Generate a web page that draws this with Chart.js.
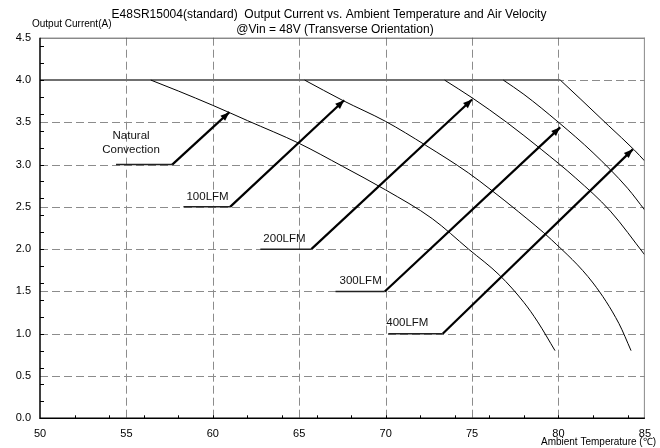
<!DOCTYPE html>
<html>
<head>
<meta charset="utf-8">
<script src="https://cdn.jsdelivr.net/npm/chart.js@4.4.1/dist/chart.umd.min.js"></script>
<style>
  html, body { margin: 0; padding: 0; background: #fff; }
  #wrap { width: 660px; height: 448px; }
</style>
</head>
<body>
<div id="wrap"><canvas id="chart" width="660" height="448"></canvas></div>
<script>
// derating curves (deg C / A)
const ncTemp = [50, 56.4, 58, 60, 62, 65, 67.5, 70, 72.7, 74.8, 76.6, 78, 78.8, 79.8];
const ncCurr = [4.0, 4.0, 3.87, 3.70, 3.52, 3.25, 2.98, 2.70, 2.36, 2.00, 1.69, 1.37, 1.14, 0.80];
const lfm100Temp = [50, 65.3, 67.5, 70, 72.3, 74.8, 76.1, 77.7, 79.6, 82.0, 83.5, 84.2];
const lfm100Curr = [4.0, 4.0, 3.76, 3.51, 3.23, 2.90, 2.70, 2.44, 2.11, 1.60, 1.12, 0.80];
const lfm200Temp = [50, 73.4, 75, 77, 79, 81, 83, 85];
const lfm200Curr = [4.0, 4.0, 3.79, 3.50, 3.18, 2.84, 2.45, 1.93];
const lfm300Temp = [50, 76.8, 78, 80, 82, 84, 85];
const lfm300Curr = [4.0, 4.0, 3.83, 3.50, 3.14, 2.72, 2.46];
const lfm400Temp = [50, 80.1, 81.3, 82.9, 84.4, 85];
const lfm400Curr = [4.0, 4.0, 3.77, 3.46, 3.17, 3.04];

// callout arrows: leader start -> elbow -> tip on the curve
const arrowNames = ['Natural Convection', '100LFM', '200LFM', '300LFM', '400LFM'];
const leaderStart = [54.4, 58.3, 62.75, 67.1, 70.15];
const elbowTemp = [57.65, 61.0, 65.7, 69.95, 73.3];
const elbowCurr = [3.0, 2.5, 2.0, 1.5, 1.0];
const tipTemp = [60.96, 67.6, 75.0, 80.1, 84.3];
const tipCurr = [3.62, 3.76, 3.77, 3.44, 3.18];

const xTicks = [50, 55, 60, 65, 70, 75, 80, 85];
const yTicks = [0, 0.5, 1, 1.5, 2, 2.5, 3, 3.5, 4, 4.5];

const FONT = '"Liberation Sans", Arial, sans-serif';

function toPoints(temps, currents) {
  return temps.map((t, i) => ({ x: t, y: currents[i] }));
}

function curveDatasets(temps, currents) {
  // flat 4.0 A part drawn straight, derating part smoothed from the knee
  let knee = 0;
  while (knee + 1 < currents.length && currents[knee + 1] === currents[0]) knee++;
  return [
    {
      data: toPoints(temps.slice(0, knee + 1), currents.slice(0, knee + 1)),
      borderColor: '#707070',
      borderWidth: 2,
      pointRadius: 0,
      tension: 0,
    },
    {
      data: toPoints(temps.slice(knee), currents.slice(knee)),
      borderColor: '#000',
      borderWidth: 1,
      pointRadius: 0,
      cubicInterpolationMode: 'monotone',
    },
  ];
}

const datasets = [
  ...curveDatasets(ncTemp, ncCurr),
  ...curveDatasets(lfm100Temp, lfm100Curr),
  ...curveDatasets(lfm200Temp, lfm200Curr),
  ...curveDatasets(lfm300Temp, lfm300Curr),
  ...curveDatasets(lfm400Temp, lfm400Curr),
];

arrowNames.forEach((name, i) => {
  datasets.push({
    data: [{ x: leaderStart[i], y: elbowCurr[i] }, { x: elbowTemp[i], y: elbowCurr[i] }],
    borderColor: '#222',
    borderWidth: 1.5,
    pointRadius: 0,
    tension: 0,
  });
  datasets.push({
    data: [{ x: elbowTemp[i], y: elbowCurr[i] }, { x: tipTemp[i], y: tipCurr[i] }],
    borderColor: '#000',
    borderWidth: 2.2,
    pointRadius: 0,
    tension: 0,
  });
});

// text offsets from the leader start (pixels)
const labelLayout = [
  { dx: 15, dy: -29, align: 'center', lines: ['Natural', 'Convection'] },
  { dx: 3, dy: -10, align: 'left', lines: ['100LFM'] },
  { dx: 3, dy: -10, align: 'left', lines: ['200LFM'] },
  { dx: 4, dy: -11, align: 'left', lines: ['300LFM'] },
  { dx: -2, dy: -11, align: 'left', lines: ['400LFM'] },
];

const decor = {
  id: 'decor',
  beforeDraw(chart) {
    const ctx = chart.ctx;
    ctx.save();
    ctx.fillStyle = '#fff';
    ctx.fillRect(0, 0, chart.width, chart.height);
    ctx.restore();
  },
  beforeDatasetsDraw(chart) {
    // dashed grid
    const { ctx, chartArea: a, scales: { x, y } } = chart;
    ctx.save();
    ctx.strokeStyle = '#8c8c8c';
    ctx.lineWidth = 1;
    ctx.setLineDash([8, 4]);
    ctx.beginPath();
    xTicks.slice(1, -1).forEach((t) => {
      const px = Math.round(x.getPixelForValue(t)) + 0.5;
      ctx.moveTo(px, a.top);
      ctx.lineTo(px, a.bottom);
    });
    yTicks.slice(1, -1).forEach((v) => {
      const py = Math.round(y.getPixelForValue(v)) + 0.5;
      ctx.moveTo(a.left, py);
      ctx.lineTo(a.right, py);
    });
    ctx.stroke();
    ctx.restore();
  },
  afterDraw(chart) {
    const { ctx, chartArea: a, scales: { x, y } } = chart;
    ctx.save();

    // frame
    ctx.lineWidth = 1;
    ctx.strokeStyle = '#555';
    ctx.beginPath();
    ctx.moveTo(a.left, a.top + 0.5);
    ctx.lineTo(a.right, a.top + 0.5);
    ctx.stroke();
    ctx.strokeStyle = '#888';
    ctx.beginPath();
    ctx.moveTo(a.right - 0.5, a.top);
    ctx.lineTo(a.right - 0.5, a.bottom);
    ctx.stroke();
    ctx.strokeStyle = '#000';
    ctx.lineWidth = 1.5;
    ctx.beginPath();
    ctx.moveTo(a.left, a.top);
    ctx.lineTo(a.left, a.bottom);
    ctx.lineTo(a.right, a.bottom);
    ctx.stroke();

    // small inward ticks
    ctx.lineWidth = 1;
    ctx.beginPath();
    for (let t = 52; t < 85; t += 2) {
      const px = Math.round(x.getPixelForValue(t)) + 0.5;
      ctx.moveTo(px, a.bottom);
      ctx.lineTo(px, a.bottom - 3);
    }
    for (let k = 1; k <= 22; k++) {
      const py = Math.round(y.getPixelForValue(k * 0.2)) + 0.5;
      ctx.moveTo(a.left, py);
      ctx.lineTo(a.left + 4, py);
    }
    ctx.stroke();

    // arrowheads
    ctx.fillStyle = '#000';
    arrowNames.forEach((name, i) => {
      const x0 = x.getPixelForValue(elbowTemp[i]);
      const y0 = y.getPixelForValue(elbowCurr[i]);
      const x1 = x.getPixelForValue(tipTemp[i]);
      const y1 = y.getPixelForValue(tipCurr[i]);
      const ang = Math.atan2(y1 - y0, x1 - x0);
      const len = 9, half = 3.5;
      ctx.beginPath();
      ctx.moveTo(x1, y1);
      ctx.lineTo(x1 - len * Math.cos(ang) + half * Math.sin(ang), y1 - len * Math.sin(ang) - half * Math.cos(ang));
      ctx.lineTo(x1 - len * Math.cos(ang) - half * Math.sin(ang), y1 - len * Math.sin(ang) + half * Math.cos(ang));
      ctx.closePath();
      ctx.fill();
    });

    // callout labels
    ctx.fillStyle = '#111';
    ctx.font = '11.5px ' + FONT;
    ctx.textBaseline = 'middle';
    arrowNames.forEach((name, i) => {
      const L = labelLayout[i];
      const bx = x.getPixelForValue(leaderStart[i]) + L.dx;
      const by = y.getPixelForValue(elbowCurr[i]) + L.dy;
      ctx.textAlign = L.align;
      L.lines.forEach((line, j) => ctx.fillText(line, bx, by + j * 14));
    });

    // titles
    ctx.fillStyle = '#000';
    ctx.textAlign = 'center';
    ctx.font = '12px ' + FONT;
    ctx.fillText('E48SR15004(standard)  Output Current vs. Ambient Temperature and Air Velocity', 329, 15);
    ctx.fillText('@Vin = 48V (Transverse Orientation)', 335, 30);
    ctx.font = '10px ' + FONT;
    ctx.textAlign = 'left';
    ctx.fillText('Output Current(A)', 32, 24);
    ctx.textAlign = 'right';
    ctx.fillText('Ambient Temperature (\u2103)', 656, 442);
    ctx.restore();
  },
};

new Chart(document.getElementById('chart').getContext('2d'), {
  type: 'line',
  data: { datasets },
  plugins: [decor],
  options: {
    responsive: false,
    animation: false,
    layout: { padding: { left: 0, right: 13.3, top: 37.7, bottom: 0 } },
    plugins: {
      legend: { display: false },
      tooltip: { enabled: false },
    },
    scales: {
      x: {
        type: 'linear',
        min: 50,
        max: 85,
        afterFit: (scale) => { scale.height = 29.7; },
        afterBuildTicks: (scale) => { scale.ticks = xTicks.map((v) => ({ value: v })); },
        ticks: { color: '#000', font: { family: FONT, size: 11 }, padding: 9, maxRotation: 0 },
        grid: { display: false, drawTicks: false },
        border: { display: false },
      },
      y: {
        type: 'linear',
        min: 0,
        max: 4.5,
        afterFit: (scale) => { scale.width = 40; },
        afterBuildTicks: (scale) => { scale.ticks = yTicks.map((v) => ({ value: v })); },
        ticks: {
          color: '#000',
          font: { family: FONT, size: 11 },
          padding: 9,
          callback: (v) => Number(v).toFixed(1),
        },
        grid: { display: false, drawTicks: false },
        border: { display: false },
      },
    },
  },
});
</script>
</body>
</html>
